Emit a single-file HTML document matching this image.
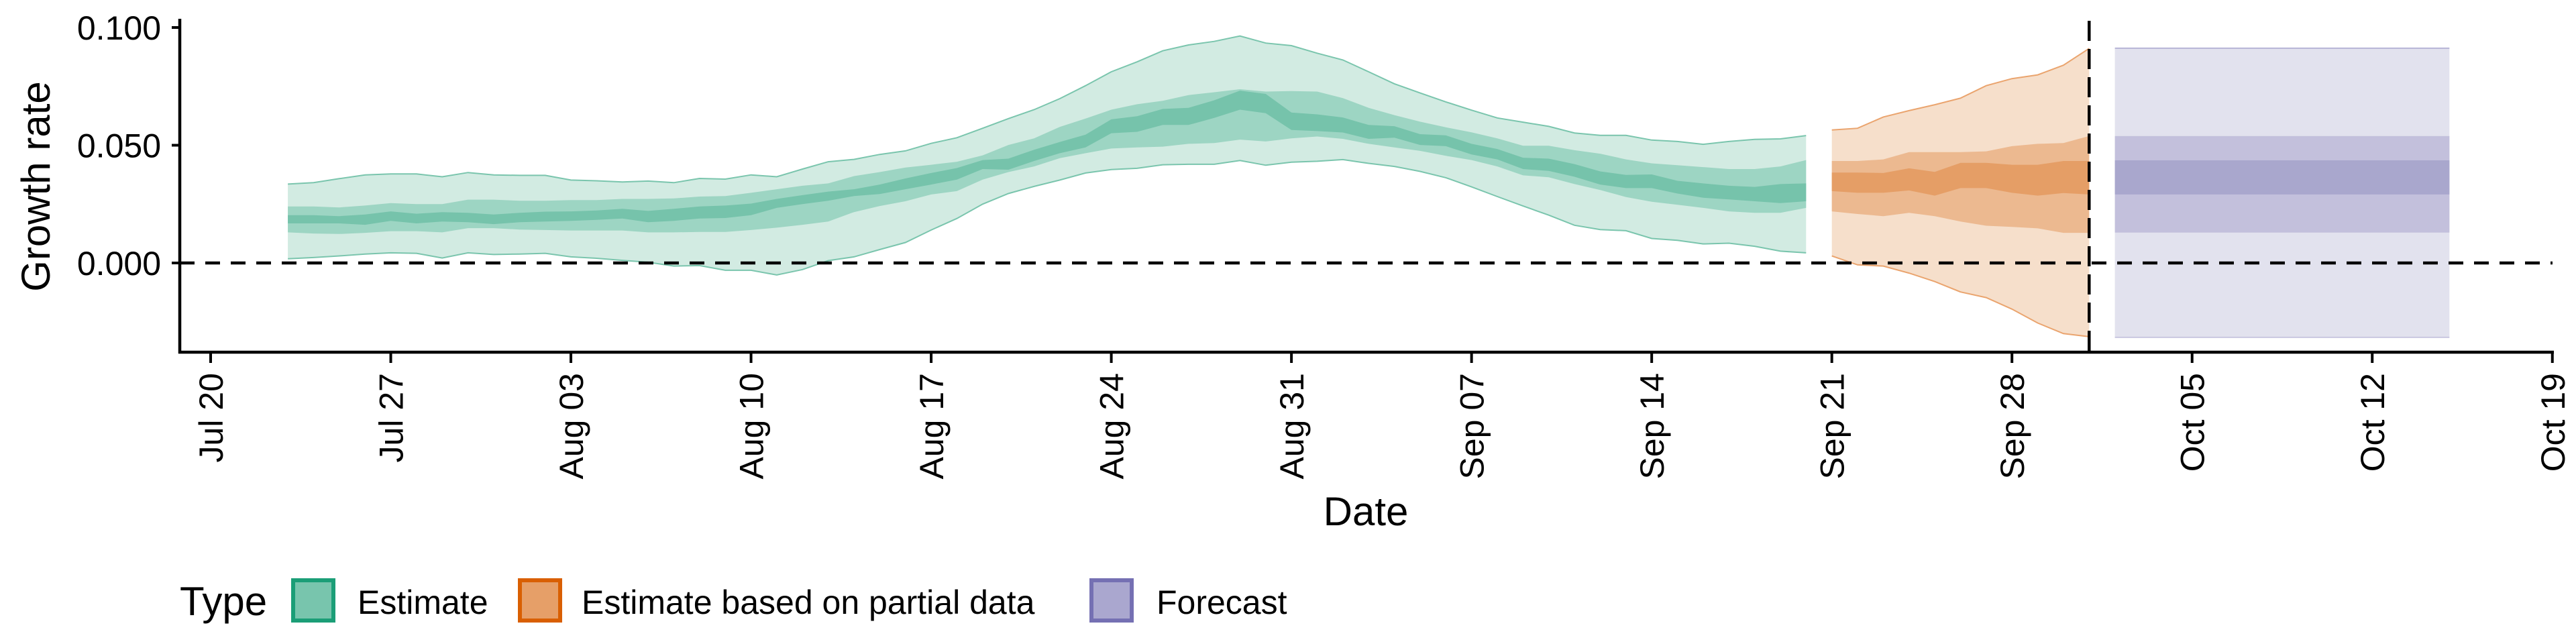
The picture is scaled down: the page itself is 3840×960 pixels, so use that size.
<!DOCTYPE html>
<html><head><meta charset="utf-8"><style>
html,body{margin:0;padding:0;background:#fff;width:3840px;height:960px;overflow:hidden}
svg{display:block;font-family:"Liberation Sans",sans-serif}
</style></head><body>
<svg id="chart" width="3840" height="960" viewBox="0 0 3840 960" xmlns="http://www.w3.org/2000/svg">
<g id="bands"></g>
<g id="axes"></g>
<text x="0" y="0" transform="translate(74,278) rotate(-90)" text-anchor="middle" font-size="60">Growth rate</text>
<text x="2036" y="783" text-anchor="middle" font-size="60">Date</text>
<g>
<text x="268" y="917" font-size="60">Type</text>
<rect x="437" y="865" width="60" height="60" fill="#78c5ad" stroke="#1b9e77" stroke-width="6"/>
<text x="533" y="915" font-size="50">Estimate</text>
<rect x="775" y="865" width="60" height="60" fill="#e69f68" stroke="#d95f02" stroke-width="6"/>
<text x="867" y="915" font-size="50">Estimate based on partial data</text>
<rect x="1627" y="865" width="60" height="60" fill="#aaa7cf" stroke="#7570b3" stroke-width="6"/>
<text x="1724" y="915" font-size="50">Forecast</text>
</g>
</svg>
<script>
// Estimate: daily, day index 3..62 (days since Jul 20)
const estStartDay = 3;
const estOuterUp = [0.0335,0.0341,0.0358,0.0374,0.0378,0.0378,0.0366,0.0384,0.0374,0.0372,0.0372,0.0352,0.0349,0.0344,0.0348,0.0341,0.0359,0.0356,0.0374,0.0366,0.0399,0.0430,0.0440,0.0461,0.0476,
0.0508,0.0532,0.0572,0.0613,0.0651,0.0698,0.0753,0.0812,0.0854,0.0901,0.0926,0.0941,0.0964,0.0934,0.0923,0.0891,0.0862,0.0812,0.0761,0.0722,0.0684,0.0649,0.0616,0.0598,0.0580,0.0552,0.0542,0.0542,0.0522,0.0516,0.0504,0.0516,0.0525,0.0527,0.0541];
const estOuterLo = [0.0018,0.0023,0.0030,0.0038,0.0043,0.0041,0.0021,0.0043,0.0036,0.0038,0.0041,0.0026,0.0020,0.0011,0.0003,-0.0013,-0.0011,-0.0031,-0.0031,-0.0051,-0.0028,0.0010,0.0026,0.0057,0.0087,
0.0140,0.0189,0.0250,0.0295,0.0325,0.0352,0.0382,0.0397,0.0402,0.0417,0.0419,0.0419,0.0435,0.0415,0.0428,0.0432,0.0439,0.0423,0.0410,0.0389,0.0362,0.0323,0.0282,0.0242,0.0203,0.0160,0.0142,0.0137,0.0104,0.0096,0.0081,0.0084,0.0071,0.0050,0.0043];
const estMidUp = [0.0240,0.0240,0.0236,0.0244,0.0254,0.0250,0.0250,0.0269,0.0269,0.0264,0.0264,0.0267,0.0267,0.0272,0.0272,0.0274,0.0282,0.0284,0.0298,0.0313,0.0328,0.0338,0.0369,0.0386,0.0405,
0.0417,0.0430,0.0457,0.0501,0.0529,0.0578,0.0613,0.0651,0.0674,0.0689,0.0713,0.0725,0.0738,0.0728,0.0730,0.0728,0.0700,0.0659,0.0628,0.0600,0.0576,0.0555,0.0529,0.0498,0.0498,0.0479,0.0464,0.0440,0.0423,0.0415,0.0407,0.0399,0.0399,0.0410,0.0437];
const estMidLo = [0.0130,0.0125,0.0123,0.0128,0.0135,0.0135,0.0130,0.0148,0.0148,0.0142,0.0140,0.0138,0.0138,0.0138,0.0130,0.0130,0.0132,0.0132,0.0140,0.0150,0.0162,0.0176,0.0216,0.0242,0.0262,
0.0291,0.0305,0.0354,0.0386,0.0410,0.0445,0.0466,0.0486,0.0491,0.0494,0.0506,0.0509,0.0524,0.0516,0.0529,0.0537,0.0527,0.0506,0.0491,0.0476,0.0455,0.0437,0.0410,0.0372,0.0364,0.0335,0.0310,0.0280,0.0260,0.0247,0.0234,0.0219,0.0213,0.0213,0.0234];
const estInUp = [0.0203,0.0203,0.0199,0.0206,0.0219,0.0209,0.0216,0.0213,0.0206,0.0213,0.0218,0.0219,0.0223,0.0230,0.0221,0.0230,0.0240,0.0244,0.0252,0.0272,0.0288,0.0303,0.0313,0.0333,0.0359,
0.0382,0.0403,0.0437,0.0443,0.0481,0.0514,0.0545,0.0610,0.0623,0.0654,0.0659,0.0691,0.0732,0.0718,0.0639,0.0631,0.0618,0.0586,0.0581,0.0547,0.0542,0.0506,0.0484,0.0447,0.0443,0.0420,0.0389,0.0374,0.0376,0.0349,0.0338,0.0328,0.0323,0.0335,0.0338];
const estInLo = [0.0168,0.0168,0.0168,0.0162,0.0179,0.0168,0.0176,0.0173,0.0165,0.0173,0.0176,0.0179,0.0183,0.0189,0.0173,0.0179,0.0189,0.0191,0.0203,0.0234,0.0250,0.0264,0.0284,0.0293,0.0313,
0.0333,0.0354,0.0399,0.0396,0.0433,0.0466,0.0491,0.0551,0.0557,0.0586,0.0586,0.0616,0.0651,0.0636,0.0565,0.0560,0.0554,0.0527,0.0532,0.0501,0.0496,0.0461,0.0440,0.0399,0.0391,0.0366,0.0333,0.0318,0.0318,0.0295,0.0277,0.0270,0.0262,0.0254,0.0262];
// Estimate based on partial data: day index 63..73
const parStartDay = 63;
const parOuterUp = [0.0565,0.0572,0.0620,0.0647,0.0672,0.0700,0.0753,0.0783,0.0799,0.0840,0.0911];
const parOuterLo = [0.0030,-0.0008,-0.0013,-0.0043,-0.0079,-0.0123,-0.0147,-0.0196,-0.0255,-0.0300,-0.0313];
const parMidUp = [0.0433,0.0433,0.0440,0.0471,0.0471,0.0471,0.0474,0.0496,0.0506,0.0509,0.0539];
const parMidLo = [0.0219,0.0208,0.0199,0.0213,0.0199,0.0176,0.0158,0.0153,0.0147,0.0128,0.0128];
const parInUp = [0.0384,0.0384,0.0382,0.0402,0.0387,0.0425,0.0425,0.0417,0.0417,0.0433,0.0433];
const parInLo = [0.0305,0.0298,0.0298,0.0308,0.0286,0.0318,0.0318,0.0298,0.0286,0.0297,0.0291];
// Forecast: constant bands from day 74 to 87
const fcDays = [74, 87];
const fcOuter = [-0.0316, 0.0912];
const fcMid = [0.0129, 0.0539];
const fcInner = [0.0291, 0.0436];
// Axes
const xTickDays = [0,7,14,21,28,35,42,49,56,63,70,77,84,91];
const xTickLabels = ["Jul 20","Jul 27","Aug 03","Aug 10","Aug 17","Aug 24","Aug 31","Sep 07","Sep 14","Sep 21","Sep 28","Oct 05","Oct 12","Oct 19"];
const yTicks = [0, 0.05, 0.1];
const yTickLabels = ["0.000","0.050","0.100"];
const dataEndDay = 73;

const X0 = 314, PXDAY = 38.36, Y0 = 392, PXUNIT = 3510;
const xs = d => X0 + d * PXDAY;
const ys = v => Y0 - v * PXUNIT;
const NS = "http://www.w3.org/2000/svg";
const bands = document.getElementById('bands');
const axes = document.getElementById('axes');

function mk(tag, attrs, parent){
  const e = document.createElementNS(NS, tag);
  for (const k in attrs) e.setAttribute(k, attrs[k]);
  parent.appendChild(e);
  return e;
}
function bandPath(start, up, lo){
  let d = '';
  up.forEach((v,i)=>{ d += (i?'L':'M') + xs(start+i).toFixed(1) + ',' + ys(v).toFixed(1); });
  for (let i = lo.length-1; i >= 0; i--) d += 'L' + xs(start+i).toFixed(1) + ',' + ys(lo[i]).toFixed(1);
  return d + 'Z';
}
function linePath(start, arr){
  let d=''; arr.forEach((v,i)=>{ d += (i?'L':'M') + xs(start+i).toFixed(1) + ',' + ys(v).toFixed(1); }); return d;
}
function drawBands(prefix, start, ou, ol, mu, ml, iu, il, c1, c2, c3, stroke){
  let p = mk('path', {d: bandPath(start, ou, ol), fill: c1}, bands);
  
  
  p = mk('path', {d: linePath(start, ou), fill:'none', stroke: stroke, 'stroke-width': 2}, bands);
  
  
  p = mk('path', {d: linePath(start, ol), fill:'none', stroke: stroke, 'stroke-width': 2}, bands);
  
  
  p = mk('path', {d: bandPath(start, mu, ml), fill: c2}, bands);
  
  
  p = mk('path', {d: bandPath(start, iu, il), fill: c3}, bands);
  
  
}
drawBands('estimate', estStartDay, estOuterUp, estOuterLo, estMidUp, estMidLo, estInUp, estInLo, '#d2ebe2', '#9dd5c3', '#76c3ab', '#7ac5ad');
drawBands('partial', parStartDay, parOuterUp, parOuterLo, parMidUp, parMidLo, parInUp, parInLo, '#f6dfcb', '#ecb990', '#e59e66', '#eaa46e');

function fcRect(name, r, fill){
  const e = mk('rect', {x: xs(fcDays[0]), y: ys(r[1]), width: xs(fcDays[1]) - xs(fcDays[0]), height: ys(r[0]) - ys(r[1]), fill: fill}, bands);
  
  
}
fcRect('forecast-band-90', fcOuter, '#e2e2ee');
fcRect('forecast-band-50', fcMid, '#c3c0dc');
fcRect('forecast-band-20', fcInner, '#a9a7cd');
let fl = mk('line', {x1: xs(fcDays[0]), x2: xs(fcDays[1]), y1: ys(fcOuter[1]), y2: ys(fcOuter[1]), stroke:'#b7b4d6', 'stroke-width':2}, bands);


fl = mk('line', {x1: xs(fcDays[0]), x2: xs(fcDays[1]), y1: ys(fcOuter[0]), y2: ys(fcOuter[0]), stroke:'#c9c7e0', 'stroke-width':2}, bands);



// zero line
let z = mk('line', {x1: 268, x2: 3805, y1: ys(0), y2: ys(0), stroke:'#000', 'stroke-width':4.5, 'stroke-dasharray':'22 16'}, axes);


// data end line
let v = mk('line', {x1: xs(dataEndDay), x2: xs(dataEndDay), y1: 31, y2: 525, stroke:'#000', 'stroke-width':4.5, 'stroke-dasharray':'30 12'}, axes);



// axis lines
let a = mk('line', {x1: 268, x2: 268, y1: 28, y2: 527, stroke:'#000', 'stroke-width':4.5}, axes);


a = mk('line', {x1: 266, x2: 3807, y1: 525, y2: 525, stroke:'#000', 'stroke-width':4.5}, axes);



yTicks.forEach((t,i)=>{
  const tk = mk('line', {x1: 256, x2: 268, y1: ys(t), y2: ys(t), stroke:'#000', 'stroke-width':4}, axes);
  
  
  const tx = mk('text', {x: 240, y: ys(t) + 18, 'text-anchor':'end', 'font-size': 50}, axes);
  
  
  tx.textContent = yTickLabels[i];
});
xTickDays.forEach((d,i)=>{
  const tk = mk('line', {x1: xs(d), x2: xs(d), y1: 525, y2: 541, stroke:'#000', 'stroke-width':4}, axes);
  
  
  const tx = mk('text', {x: 0, y: 0, 'text-anchor':'end', 'font-size': 50, transform: 'translate(' + (xs(d) + 18) + ',556) rotate(-90)'}, axes);
  
  
  tx.textContent = xTickLabels[i];
});
</script>
</body></html>
